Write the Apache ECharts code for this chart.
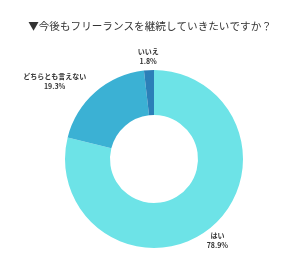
<!DOCTYPE html>
<html><head><meta charset="utf-8">
<script src="https://cdn.jsdelivr.net/npm/echarts@6/dist/echarts.min.js"></script>
<style>html,body{margin:0;padding:0;background:#fff}#c{width:300px;height:264px}</style>
</head><body><div id="c"></div>
<script>
const titleText = '▼今後もフリーランスを継続していきたいですか？';
const categories = ['はい', 'どちらとも言えない', 'いいえ'];
const values = [78.9, 19.3, 1.8];
const colors = ['#6de3e7', '#3bb1d4', '#2b7fb8'];

const CX = 154, CY = 159, R_IN = 44, R_OUT = 89;

const chart = echarts.init(document.getElementById('c'), null, {renderer: 'canvas'});
chart.setOption({
  animation: false,
  title: {
    text: titleText, left: 'center', top: 16,
    textStyle: {fontFamily: 'Noto Sans CJK JP', fontSize: 10.6, fontWeight: 'normal', color: '#333'}
  },
  series: [{
    type: 'pie',
    center: [CX, CY],
    radius: [R_IN, R_OUT],
    startAngle: 90,
    clockwise: true,
    avoidLabelOverlap: false,
    data: categories.map((n, i) => ({name: n, value: values[i], itemStyle: {color: colors[i]}})),
    label: {
      position: 'outside',
      distanceToLabelLine: 0,
      formatter: p => '{a|' + p.name + '}\n{a|' + p.value.toFixed(1) + '%}',
      rich: {a: {align: 'center', fontFamily: 'Noto Sans CJK JP', fontSize: 7, fontWeight: 'bold', color: '#333', lineHeight: 9.5}}
    },
    labelLine: {show: false, length: 14, length2: 0},
    labelLayout: function (p) {
      const lr = p.labelRect;
      const ax = p.align === 'right' ? lr.x + lr.width : (p.align === 'left' ? lr.x : lr.x + lr.width / 2);
      const x0 = ax - lr.width / 2 + 3, x1 = ax + lr.width / 2 - 3, y0 = lr.y + 3, y1 = lr.y + lr.height - 3;
      const nx = Math.min(Math.max(CX, x0), x1), ny = Math.min(Math.max(CY, y0), y1);
      if (Math.hypot(nx - CX, ny - CY) < R_OUT) return {};
      return {x: ax, align: 'center'};
    }
  }]
});
</script></body></html>
